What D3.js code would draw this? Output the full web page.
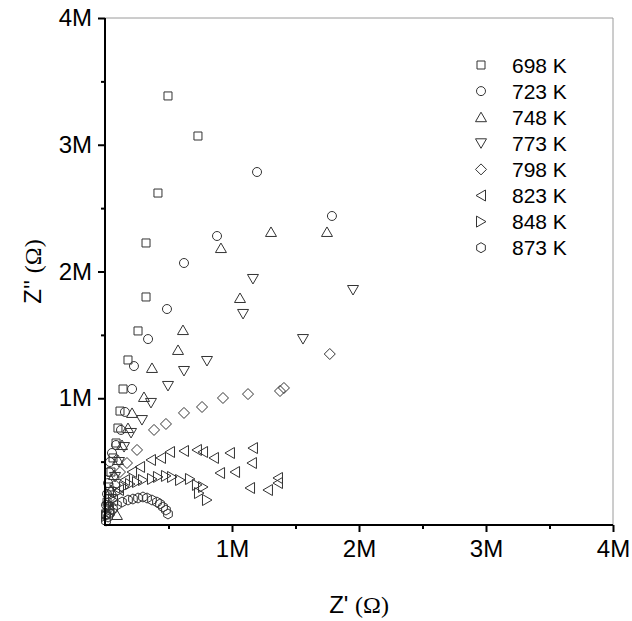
<!DOCTYPE html>
<html>
<head>
<meta charset="utf-8">
<script src="https://cdn.jsdelivr.net/npm/d3@7/dist/d3.min.js"></script>
<style>
  html, body { margin: 0; padding: 0; background: #fff; }
  svg { display: block; font-family: "Liberation Sans", Arial, sans-serif; }
</style>
</head>
<body>
<svg id="chart" width="632" height="621"></svg>
<script>
// Impedance spectra (Nyquist plot), values in ohm: [Z', Z'']
const M = 1e6;
const temperatures = ["698 K", "723 K", "748 K", "773 K", "798 K", "823 K", "848 K", "873 K"];
const shapes = ["square", "circle", "triangleUp", "triangleDown", "diamond", "triangleLeft", "triangleRight", "hexagon"];

const z698 = [[0.496,3.385],[0.732,3.069],[0.417,2.619],[0.323,2.225],[0.323,1.799],[0.26,1.531],[0.181,1.302],[0.142,1.073],[0.118,0.899],[0.102,0.765],[0.087,0.647],[0.063,0.529],[0.047,0.418],[0.031,0.30],[0.016,0.18],[0.008,0.08]];
const z723 = [[1.787,2.438],[1.197,2.785],[0.882,2.28],[0.622,2.067],[0.488,1.704],[0.339,1.467],[0.228,1.254],[0.213,1.073],[0.157,0.892],[0.126,0.75],[0.087,0.631],[0.055,0.568],[0.039,0.497],[0.031,0.418],[0.024,0.331],[0.016,0.245],[0.008,0.158],[0.008,0.079]];
const z748 = [[1.748,2.312],[1.307,2.312],[0.913,2.185],[1.063,1.791],[0.614,1.538],[0.575,1.381],[0.370,1.239],[0.307,1.01],[0.213,0.884],[0.181,0.765],[0.134,0.631],[0.102,0.513],[0.071,0.394],[0.047,0.276],[0.031,0.158],[0.094,0.079]];
const z773 = [[1.953,1.854],[1.559,1.467],[1.165,1.941],[1.087,1.665],[0.803,1.294],[0.622,1.215],[0.496,1.097],[0.362,0.963],[0.291,0.828],[0.205,0.726],[0.150,0.615],[0.110,0.497],[0.079,0.379],[0.047,0.26],[0.024,0.142]];
const z798 = [[1.770,1.349],[1.409,1.081],[1.378,1.057],[1.126,1.033],[0.929,1.002],[0.764,0.931],[0.622,0.884],[0.480,0.797],[0.386,0.75],[0.252,0.592],[0.173,0.489],[0.118,0.418],[0.079,0.316],[0.039,0.213],[0.016,0.118]];
const z823 = [[1.165,0.607],[0.984,0.568],[0.858,0.529],[0.772,0.576],[0.724,0.592],[0.622,0.584],[0.512,0.576],[0.441,0.529],[0.362,0.513],[0.276,0.458],[0.213,0.418],[0.157,0.355],[0.110,0.276],[0.063,0.197],[0.031,0.118],[1.157,0.489],[1.024,0.418],[0.906,0.41],[1.142,0.292],[1.283,0.276],[1.362,0.371],[1.362,0.331]];
const z848 = [[0.803,0.197],[0.740,0.252],[0.772,0.30],[0.724,0.316],[0.669,0.363],[0.591,0.355],[0.528,0.379],[0.480,0.387],[0.417,0.379],[0.370,0.363],[0.299,0.355],[0.252,0.339],[0.197,0.323],[0.150,0.30],[0.102,0.26],[0.063,0.197],[0.031,0.134],[0.008,0.071]];
const z873 = [[0.496,0.087],[0.480,0.118],[0.457,0.142],[0.433,0.166],[0.409,0.181],[0.370,0.197],[0.331,0.213],[0.299,0.221],[0.260,0.213],[0.22,0.205],[0.181,0.197],[0.134,0.181],[0.094,0.158],[0.063,0.126],[0.039,0.095],[0.024,0.063],[0.008,0.032]];

const seriesValues = [z698, z723, z748, z773, z798, z823, z848, z873];
const tickValues = [1, 2, 3, 4];
const tickLabels = ["1M", "2M", "3M", "4M"];
const minorTickValues = [0.5, 1.5, 2.5, 3.5];

const svg = d3.select("#chart");
const plotLeft = 105, plotRight = 613, plotTop = 18, plotBottom = 525;

const x = d3.scaleLinear().domain([0, 4 * M]).range([plotLeft, plotRight]);
const y = d3.scaleLinear().domain([0, 4 * M]).range([plotBottom, plotTop]);

// marker outlines centred on (0,0)
function markerPath(shape) {
  const p = d3.path();
  switch (shape) {
    case "square": p.rect(-4, -4, 8, 8); break;
    case "circle": p.arc(0, 0, 4.5, 0, 2 * Math.PI); break;
    case "triangleUp": p.moveTo(0, -5); p.lineTo(5.5, 4.5); p.lineTo(-5.5, 4.5); p.closePath(); break;
    case "triangleDown": p.moveTo(0, 5); p.lineTo(5.5, -4.5); p.lineTo(-5.5, -4.5); p.closePath(); break;
    case "triangleLeft": p.moveTo(-5, 0); p.lineTo(4.5, 5.5); p.lineTo(4.5, -5.5); p.closePath(); break;
    case "triangleRight": p.moveTo(5, 0); p.lineTo(-4.5, 5.5); p.lineTo(-4.5, -5.5); p.closePath(); break;
    case "diamond": p.moveTo(0, -5.5); p.lineTo(5.5, 0); p.lineTo(0, 5.5); p.lineTo(-5.5, 0); p.closePath(); break;
    case "hexagon":
      for (let i = 0; i < 6; i++) {
        const a = Math.PI / 3 * i - Math.PI / 2;
        const px = 5 * Math.cos(a), py = 5 * Math.sin(a);
        if (i === 0) p.moveTo(px, py); else p.lineTo(px, py);
      }
      p.closePath();
      break;
  }
  return p.toString();
}

// frame: thin grey top and right edges
svg.append("line").attr("x1", plotLeft).attr("x2", plotRight).attr("y1", plotTop).attr("y2", plotTop)
  .attr("stroke", "#9a9a9a").attr("stroke-width", 1);
svg.append("line").attr("x1", plotRight).attr("x2", plotRight).attr("y1", plotTop).attr("y2", plotBottom)
  .attr("stroke", "#9a9a9a").attr("stroke-width", 1);

// data markers
seriesValues.forEach((pts, i) => {
  svg.append("g")
    .selectAll("path")
    .data(pts)
    .join("path")
    .attr("transform", d => `translate(${x(d[0] * M)},${y(d[1] * M)})`)
    .attr("d", markerPath(shapes[i]))
    .attr("fill", "none")
    .attr("stroke", "#333")
    .attr("stroke-width", 1);
});

// axes: major ticks with labels, minor ticks without
svg.append("g").attr("transform", `translate(0,${plotBottom})`)
  .call(d3.axisBottom(x).tickValues(tickValues.map(v => v * M)).tickFormat((d, i) => tickLabels[i]).tickSize(7).tickPadding(8));
svg.append("g").attr("transform", `translate(0,${plotBottom})`)
  .call(d3.axisBottom(x).tickValues(minorTickValues.map(v => v * M)).tickFormat("").tickSize(4));
svg.append("g").attr("transform", `translate(${plotLeft},0)`)
  .call(d3.axisLeft(y).tickValues(tickValues.map(v => v * M)).tickFormat((d, i) => tickLabels[i]).tickSize(7).tickPadding(6));
svg.append("g").attr("transform", `translate(${plotLeft},0)`)
  .call(d3.axisLeft(y).tickValues(minorTickValues.map(v => v * M)).tickFormat("").tickSize(4));

svg.selectAll(".domain").remove();
svg.selectAll(".tick line").attr("stroke", "#000").attr("stroke-width", 2);
svg.selectAll(".tick text").attr("font-size", 24).attr("fill", "#000")
  .attr("font-family", "'Liberation Sans', Arial, sans-serif");

// black left and bottom axis lines
svg.append("line").attr("x1", plotLeft).attr("x2", plotRight).attr("y1", plotBottom).attr("y2", plotBottom)
  .attr("stroke", "#000").attr("stroke-width", 2);
svg.append("line").attr("x1", plotLeft).attr("x2", plotLeft).attr("y1", plotTop).attr("y2", plotBottom + 1)
  .attr("stroke", "#000").attr("stroke-width", 2);

// axis titles
const xt = svg.append("text").attr("x", (plotLeft + plotRight) / 2).attr("y", 613)
  .attr("text-anchor", "middle").attr("font-size", 24).attr("fill", "#000");
xt.append("tspan").text("Z' ");
xt.append("tspan").attr("font-family", "'Liberation Serif', serif").text("(Ω)");

const yt = svg.append("text").attr("transform", `translate(41,${(plotTop + plotBottom) / 2}) rotate(-90)`)
  .attr("text-anchor", "middle").attr("font-size", 24).attr("fill", "#000");
yt.append("tspan").text("Z'' ");
yt.append("tspan").attr("font-family", "'Liberation Serif', serif").text("(Ω)");

// legend
const legend = svg.append("g");
temperatures.forEach((t, i) => {
  const ly = 65 + i * 26.1;
  legend.append("path").attr("transform", `translate(481,${ly})`)
    .attr("d", markerPath(shapes[i])).attr("fill", "none").attr("stroke", "#333").attr("stroke-width", 1);
  legend.append("text").attr("x", 512).attr("y", ly + 7.5).attr("font-size", 21).attr("fill", "#000").text(t);
});
</script>
</body>
</html>
